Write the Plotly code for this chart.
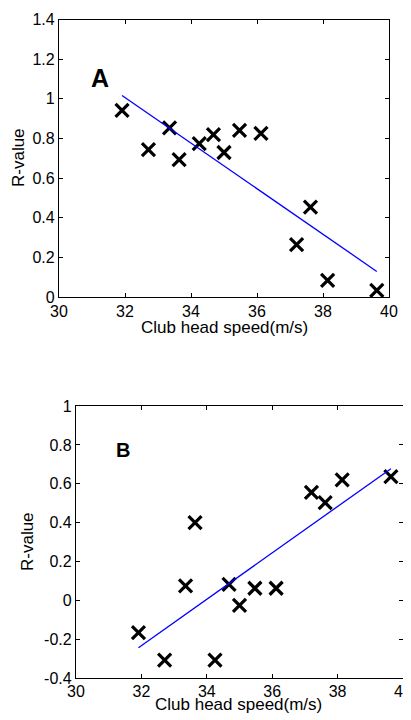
import numpy as np
import plotly.graph_objects as go

# Data
club_speed = [31.91, 32.71, 33.35, 33.64, 34.25, 34.68, 35.0, 35.47, 36.12, 37.2, 37.62, 38.14, 39.63]
r_value_a = [0.942, 0.744, 0.853, 0.693, 0.774, 0.819, 0.729, 0.841, 0.825, 0.264, 0.454, 0.084, 0.034]
r_value_b = [-0.165, -0.306, 0.075, 0.40, -0.306, 0.083, -0.025, 0.063, 0.063, 0.556, 0.503, 0.62, 0.637]

x_ticks = [30, 32, 34, 36, 38, 40]
y_ticks_a = [0, 0.2, 0.4, 0.6, 0.8, 1.0, 1.2, 1.4]
y_labels_a = ["0", "0.2", "0.4", "0.6", "0.8", "1", "1.2", "1.4"]
y_ticks_b = [-0.4, -0.2, 0, 0.2, 0.4, 0.6, 0.8, 1.0]
y_labels_b = ["-0.4", "-0.2", "0", "0.2", "0.4", "0.6", "0.8", "1"]

x_title = "Club head speed(m/s)"
y_title = "R-value"

FONT = "Liberation Sans, Arial, sans-serif"
W, H = 411, 720
OFF = 8  # the page body adds an 8px margin around the figure


def fx(px):
    return (px - OFF) / W


def fy(py):
    return 1 - (py - OFF) / H


def fit_line(x, y):
    x = np.asarray(x); y = np.asarray(y)
    k, b = np.polyfit(x, y, 1)
    xs = np.array([x.min(), x.max()])
    return xs, k * xs + b


fig = go.Figure()

for ax, yv in (("", r_value_a), ("2", r_value_b)):
    fig.add_trace(go.Scatter(
        x=club_speed, y=yv, mode="markers",
        marker=dict(symbol="x-thin", size=13, line=dict(color="black", width=3.2), color="black"),
        xaxis="x" + ax, yaxis="y" + ax, showlegend=False, hoverinfo="x+y", cliponaxis=False))
    lx, ly = fit_line(club_speed, yv)
    fig.add_trace(go.Scatter(
        x=lx, y=ly, mode="lines", line=dict(color="#0000ff", width=1.3),
        xaxis="x" + ax, yaxis="y" + ax, showlegend=False))

axis_common = dict(
    automargin=False,
    showgrid=False, zeroline=False, showline=True, linecolor="black", linewidth=1.2,
    mirror="ticks", ticks="inside", ticklen=4, tickcolor="black", tickwidth=1,
    tickfont=dict(family=FONT, size=16, color="black"),
)


def title_ann(text, x, y, angle=0):
    return dict(text=text, x=fx(x), y=fy(y), xref="paper", yref="paper",
                showarrow=False, textangle=angle, xanchor="center", yanchor="middle",
                font=dict(size=17, family=FONT, color="black"))


fig.update_layout(
    template="none",
    width=W, height=H,
    margin=dict(l=0, r=0, t=0, b=0, pad=0),
    paper_bgcolor="white", plot_bgcolor="white",
    font=dict(family=FONT, color="black"),
    xaxis=dict(domain=[fx(59), fx(389)], range=[30, 40], tickvals=x_ticks, anchor="y", **axis_common),
    yaxis=dict(domain=[fy(297), fy(19.5)], range=[0, 1.4], tickvals=y_ticks_a, ticktext=y_labels_a,
               anchor="x", **axis_common),
    xaxis2=dict(domain=[fx(76), fx(403)], range=[30, 40], tickvals=x_ticks, anchor="y2",
                ticklabelstandoff=-2, **axis_common),
    yaxis2=dict(domain=[fy(678.3), fy(406)], range=[-0.4, 1.0], tickvals=y_ticks_b, ticktext=y_labels_b,
                anchor="x2", **axis_common),
    annotations=[
        title_ann(x_title, 224, 327),
        title_ann(y_title, 18, 158, -90),
        title_ann(x_title, 238, 704),
        title_ann(y_title, 27, 542, -90),
        dict(text="<b>A</b>", x=fx(89), y=fy(62), xref="paper", yref="paper",
             showarrow=False, font=dict(size=25, family=FONT, color="black")),
        dict(text="<b>B</b>", x=fx(114), y=fy(450), xref="paper", yref="paper",
             showarrow=False, font=dict(size=20, family=FONT, color="black")),
    ],
)

fig.write_html("out.html")
